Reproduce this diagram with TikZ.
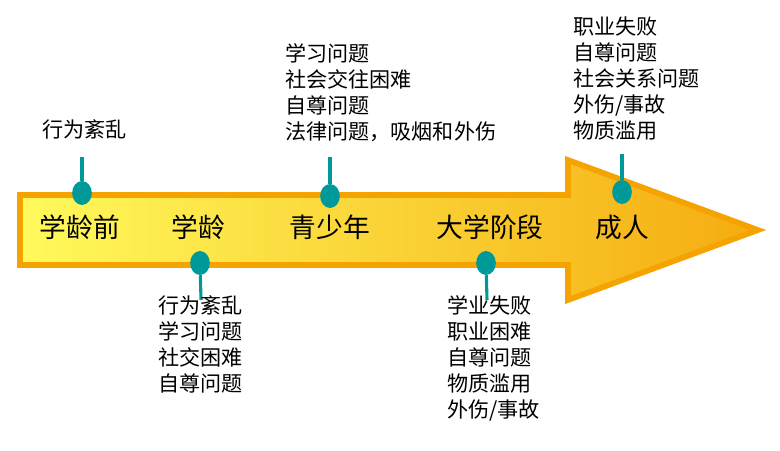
\documentclass[tikz,border=0pt]{standalone}
\usepackage{fontspec}
\setmainfont{Noto Sans CJK SC}
\usetikzlibrary{positioning}
\definecolor{teal1}{HTML}{00999A}
\definecolor{edgeorange}{HTML}{F5A300}
\definecolor{lightyellow}{HTML}{FFFA5C}
\definecolor{darkyellow}{HTML}{F5AC10}
\tikzset{
  stage/.style={font=\fontsize{19}{22}\selectfont},
  notes/.style={anchor=north west, align=left, inner sep=0pt,
    font=\fontsize{15}{18.6}\selectfont},
  dot/.style={ellipse, fill=teal1, minimum width=14, minimum height=17, inner sep=0pt},
}
\usetikzlibrary{shapes.geometric}
\begin{document}
\begin{tikzpicture}[x=0.025cm, y=-0.025cm]
    \useasboundingbox (0,0) rectangle (780,450);

    % 时间箭头
    \shade[left color=lightyellow, right color=darkyellow, draw=edgeorange, line width=4pt, line join=miter]
      (20,195) -- (568,195) -- (568,160) -- (758,230) -- (568,300) -- (568,265) -- (20,265) -- cycle;

    % 阶段
    \node[stage] (preschool) at (80,227) {学龄前};
    \node[stage] (school) at (198,227) {学龄};
    \node[stage] (teen) at (330,227) {青少年};
    \node[stage] (college) at (490,227) {大学阶段};
    \node[stage] (adult) at (622,227) {成人};

    % 圆点
    \node[dot] (d1) at (82,193) {};
    \node[dot] (d2) at (200,263) {};
    \node[dot] (d3) at (330,196) {};
    \node[dot] (d4) at (486,263) {};
    \node[dot] (d5) at (622,192) {};
    \coordinate (e1) at (82,157);
    \coordinate (e2) at (201,300);
    \coordinate (e3) at (330,157);
    \coordinate (e4) at (487,300);
    \coordinate (e5) at (622,154);
    \foreach \i in {1,...,5}
      \draw[teal1, line width=2.2pt] (d\i) -- (e\i);

    % 问题
    \node[notes] (n1) at (42,119) {行为紊乱};
    \node[notes] (n2) at (158,295) {行为紊乱\\学习问题\\社交困难\\自尊问题};
    \node[notes] (n3) at (285,43) {学习问题\\社会交往困难\\自尊问题\\法律问题，吸烟和外伤};
    \node[notes] (n4) at (447,295) {学业失败\\职业困难\\自尊问题\\物质滥用\\外伤/事故};
    \node[notes] (n5) at (573,16) {职业失败\\自尊问题\\社会关系问题\\外伤/事故\\物质滥用};

\end{tikzpicture}
\end{document}
